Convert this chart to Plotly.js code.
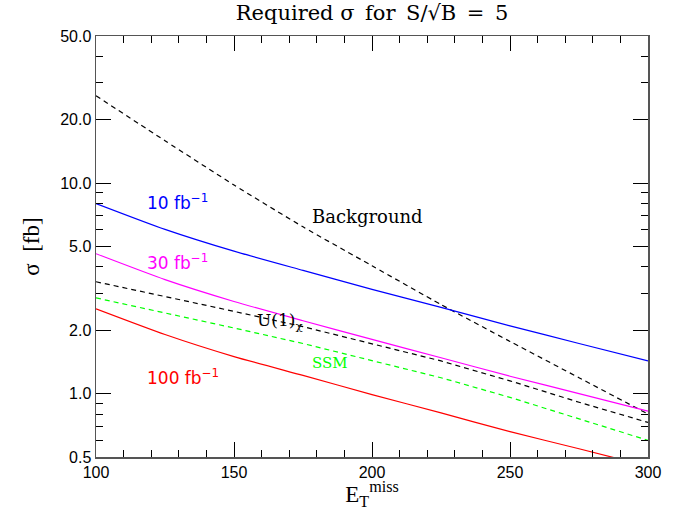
<!DOCTYPE html>
<html><head><meta charset="utf-8">
<script src="https://cdn.plot.ly/plotly-3.0.1.min.js"></script>
<style>html,body{margin:0;padding:0;background:#fff}</style>
</head><body><div id="chart" style="width:683px;height:510px"></div>
<script>
// Data
const etMiss     = [100, 125, 150, 175, 200, 225, 250, 275, 300];
const sigma10fb  = [8.0, 6.03, 4.75, 3.85, 3.13, 2.57, 2.10, 1.73, 1.43];
const sigma30fb  = [4.62, 3.48, 2.74, 2.22, 1.81, 1.48, 1.21, 1.00, 0.826];
const sigma100fb = [2.53, 1.91, 1.50, 1.22, 0.99, 0.81, 0.66, 0.547, 0.452];
const background = [26.0, 15.9, 9.8, 6.2, 4.05, 2.65, 1.77, 1.19, 0.80];
const u1chi      = [3.40, 2.90, 2.46, 2.08, 1.72, 1.43, 1.15, 0.91, 0.73];
const ssm        = [2.85, 2.42, 2.05, 1.73, 1.44, 1.19, 0.96, 0.76, 0.60];

const yTickVals  = [0.5, 1, 2, 5, 10, 20, 50];
const yTickText  = ['0.5', '1.0', '2.0', '5.0', '10.0', '20.0', '50.0'];
const yMinorVals = [0.6, 0.7, 0.8, 0.9, 3, 4, 6, 7, 8, 9, 30, 40];
const xTickVals  = [100, 150, 200, 250, 300];
const xMinorVals = [110,120,130,140,160,170,180,190,210,220,230,240,260,270,280,290];

const labels = {
  l10: '10 fb<sup>\u22121</sup>',
  l30: '30 fb<sup>\u22121</sup>',
  l100: '100 fb<sup>\u22121</sup>',
  bg: 'Background',
  u1: 'U(1)<sub>\u03c7</sub>',
  ssm: 'SSM'
};

const lw = 1.2;
const dashPat = '5px,4px';
const traces = [
  {x: etMiss, y: background, mode: 'lines', line: {color: '#000000', width: lw, dash: dashPat, shape: 'spline', smoothing: 0.6}},
  {x: etMiss, y: sigma10fb, mode: 'lines', line: {color: '#0000ff', width: lw, shape: 'spline', smoothing: 0.6}},
  {x: etMiss, y: sigma30fb, mode: 'lines', line: {color: '#ff00ff', width: lw, shape: 'spline', smoothing: 0.6}},
  {x: etMiss, y: u1chi, mode: 'lines', line: {color: '#000000', width: lw, dash: dashPat}},
  {x: etMiss, y: ssm, mode: 'lines', line: {color: '#00ff00', width: lw, dash: dashPat}},
  {x: etMiss, y: sigma100fb, mode: 'lines', line: {color: '#ff0000', width: lw, shape: 'spline', smoothing: 0.6}}
];

const sansTick = {family: 'Liberation Sans, Arial, sans-serif', size: 16, color: '#000'};
const lblFont = (c) => ({family: 'DejaVu Sans, sans-serif', size: 17, color: c});
const L = Math.log10;

const layout = {
  width: 683, height: 510,
  margin: {l: 96, r: 35, t: 36, b: 53},
  paper_bgcolor: '#fff', plot_bgcolor: '#fff',
  showlegend: false,
  title: {
    text: 'Required \u03c3\u2002for\u2002S/\u221aB\u2002=\u20025',
    font: {family: 'DejaVu Serif, serif', size: 21, color: '#000'},
    xref: 'paper', x: 0.5, xanchor: 'center',
    yref: 'container', y: 1 - 13/510, yanchor: 'middle'
  },
  xaxis: {
    type: 'linear', range: [100, 300],
    tickmode: 'array', tickvals: xTickVals, ticktext: xTickVals.map(String),
    ticks: 'inside', ticklen: 15, tickwidth: 1, tickcolor: '#000',
    minor: {tickmode: 'array', tickvals: xMinorVals, ticks: 'inside', ticklen: 7, tickwidth: 1, tickcolor: '#000', showgrid: false},
    mirror: 'ticks', showline: true, linecolor: '#555', linewidth: 1.5,
    showgrid: false, zeroline: false,
    tickfont: sansTick,
    title: {text: 'E<sub>T</sub><sup>miss</sup>', font: {family: 'Liberation Serif, serif', size: 23, color: '#000'}, standoff: 8}
  },
  yaxis: {
    type: 'log', range: [L(0.5), L(50)],
    tickmode: 'array', tickvals: yTickVals, ticktext: yTickText,
    ticks: 'inside', ticklen: 15, tickwidth: 1, tickcolor: '#000',
    minor: {tickmode: 'array', tickvals: yMinorVals, ticks: 'inside', ticklen: 7, tickwidth: 1, tickcolor: '#000', showgrid: false},
    mirror: 'ticks', showline: true, linecolor: '#555', linewidth: 1.5,
    showgrid: false, zeroline: false,
    tickfont: sansTick,
    title: {text: '\u03c3\u2002[fb]', font: {family: 'Liberation Serif, serif', size: 23, color: '#000'}, standoff: 14}
  },
  annotations: [
    {x: 117.7, y: L(8.1), xref: 'x', yref: 'y', text: labels.l10, showarrow: false, xanchor: 'left', yanchor: 'middle', font: lblFont('#0000ff')},
    {x: 117.7, y: L(4.22), xref: 'x', yref: 'y', text: labels.l30, showarrow: false, xanchor: 'left', yanchor: 'middle', font: lblFont('#ff00ff')},
    {x: 117.7, y: L(1.20), xref: 'x', yref: 'y', text: labels.l100, showarrow: false, xanchor: 'left', yanchor: 'middle', font: lblFont('#ff0000')},
    {x: 177.4, y: L(6.98), xref: 'x', yref: 'y', text: labels.bg, showarrow: false, xanchor: 'left', yanchor: 'middle', font: {family: 'DejaVu Serif, serif', size: 18, color: '#000'}},
    {x: 157.5, y: L(2.19), xref: 'x', yref: 'y', text: labels.u1, showarrow: false, xanchor: 'left', yanchor: 'middle', font: {family: 'DejaVu Serif, serif', size: 17, color: '#000'}},
    {x: 177.4, y: L(1.40), xref: 'x', yref: 'y', text: labels.ssm, showarrow: false, xanchor: 'left', yanchor: 'middle', font: {family: 'DejaVu Serif, serif', size: 15, color: '#00ff00'}}
  ]
};

Plotly.newPlot('chart', traces, layout, {staticPlot: true, displayModeBar: false});
</script></body></html>
